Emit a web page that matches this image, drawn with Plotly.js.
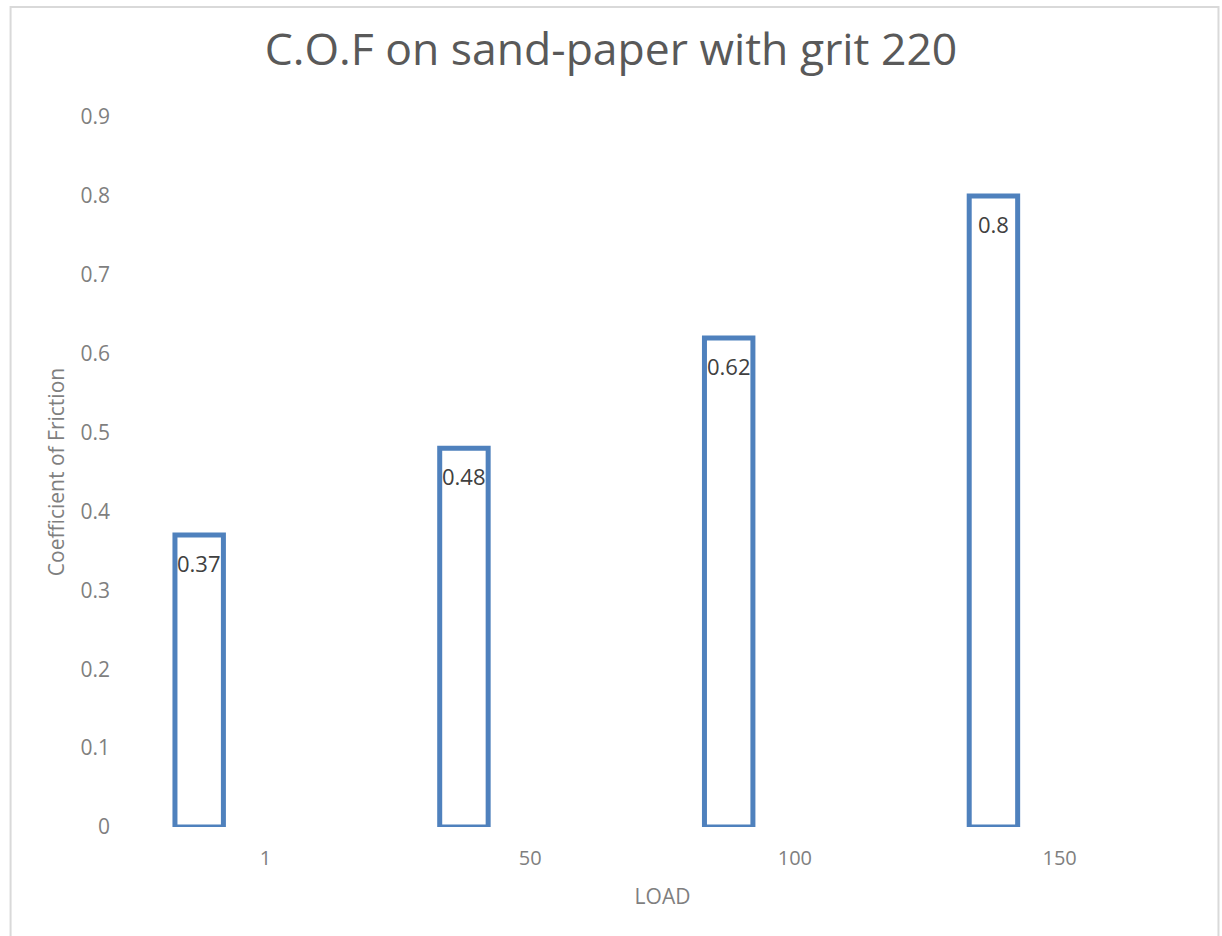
<!DOCTYPE html>
<html>
<head>
<meta charset="utf-8">
<script src="https://cdn.plot.ly/plotly-3.0.1.min.js"></script>
<style>html,body{margin:0;padding:0;background:#fff;}#chart{width:1222px;height:936px;}</style>
</head>
<body>
<div id="chart"></div>
<script>
var loads = ["1", "50", "100", "150"];
var cof = [0.37, 0.48, 0.62, 0.8];
var emptySeries = [null, null, null, null];
var labels = ["0.37", "0.48", "0.62", "0.8"];
var yTicks = [0, 0.1, 0.2, 0.3, 0.4, 0.5, 0.6, 0.7, 0.8, 0.9];
var yTickText = ["0", "0.1", "0.2", "0.3", "0.4", "0.5", "0.6", "0.7", "0.8", "0.9"];

var FONT = "Open Sans, Noto Sans, sans-serif";

var trace = {
  type: "bar",
  x: loads,
  y: cof,
  marker: { color: "#ffffff", line: { color: "#4F81BD", width: 5 } },
  hoverinfo: "x+y",
  showlegend: false
};
var spacer = {
  type: "bar",
  x: loads,
  y: emptySeries,
  marker: { color: "#ffffff" },
  hoverinfo: "skip",
  showlegend: false
};

// annotation x uses the category index of each load (category axis)
var annotations = loads.map(function (c, i) {
  return {
    xref: "x", yref: "y", x: i, y: cof[i],
    xshift: -66, yshift: -11, yanchor: "top",
    text: labels[i], showarrow: false,
    font: { family: FONT, size: 22, color: "#404040" }
  };
});

var layout = {
  width: 1222, height: 936,
  paper_bgcolor: "#ffffff", plot_bgcolor: "#ffffff",
  margin: { l: 132.5, r: 29.5, t: 117, b: 109 },
  barmode: "group",
  bargap: 0,
  bargroupgap: 0.634,
  title: {
    text: "C.O.F on sand-paper with grit 220",
    font: { family: FONT, size: 44.5, color: "#595959" },
    x: 0.5, xanchor: "center", y: 0.947, yanchor: "middle"
  },
  xaxis: {
    type: "category",
    categoryorder: "array", categoryarray: loads,
    range: [-0.5, 3.5],
    showgrid: false, zeroline: false, showline: false,
    ticks: "",
    ticklabelstandoff: 17,
    tickfont: { family: FONT, size: 20, color: "#7f7f7f" },
    title: { text: "LOAD", font: { family: FONT, size: 21, color: "#7f7f7f" }, standoff: 19 }
  },
  yaxis: {
    range: [0, 0.9],
    tickvals: yTicks, ticktext: yTickText,
    showgrid: false, zeroline: false, showline: false,
    ticks: "",
    ticklabelstandoff: 22,
    tickfont: { family: FONT, size: 21, color: "#7f7f7f" },
    title: { text: "Coefficient of Friction", font: { family: FONT, size: 21, color: "#7f7f7f" }, standoff: 10 }
  },
  annotations: annotations,
  shapes: [{
    type: "rect", xref: "paper", yref: "paper",
    x0: -0.1156, x1: 1.025, y0: -0.3, y1: 1.155,
    line: { color: "#d9d9d9", width: 2 }, fillcolor: "rgba(0,0,0,0)", layer: "below"
  }]
};

Plotly.newPlot("chart", [trace, spacer], layout, { displayModeBar: false });
</script>
</body>
</html>
